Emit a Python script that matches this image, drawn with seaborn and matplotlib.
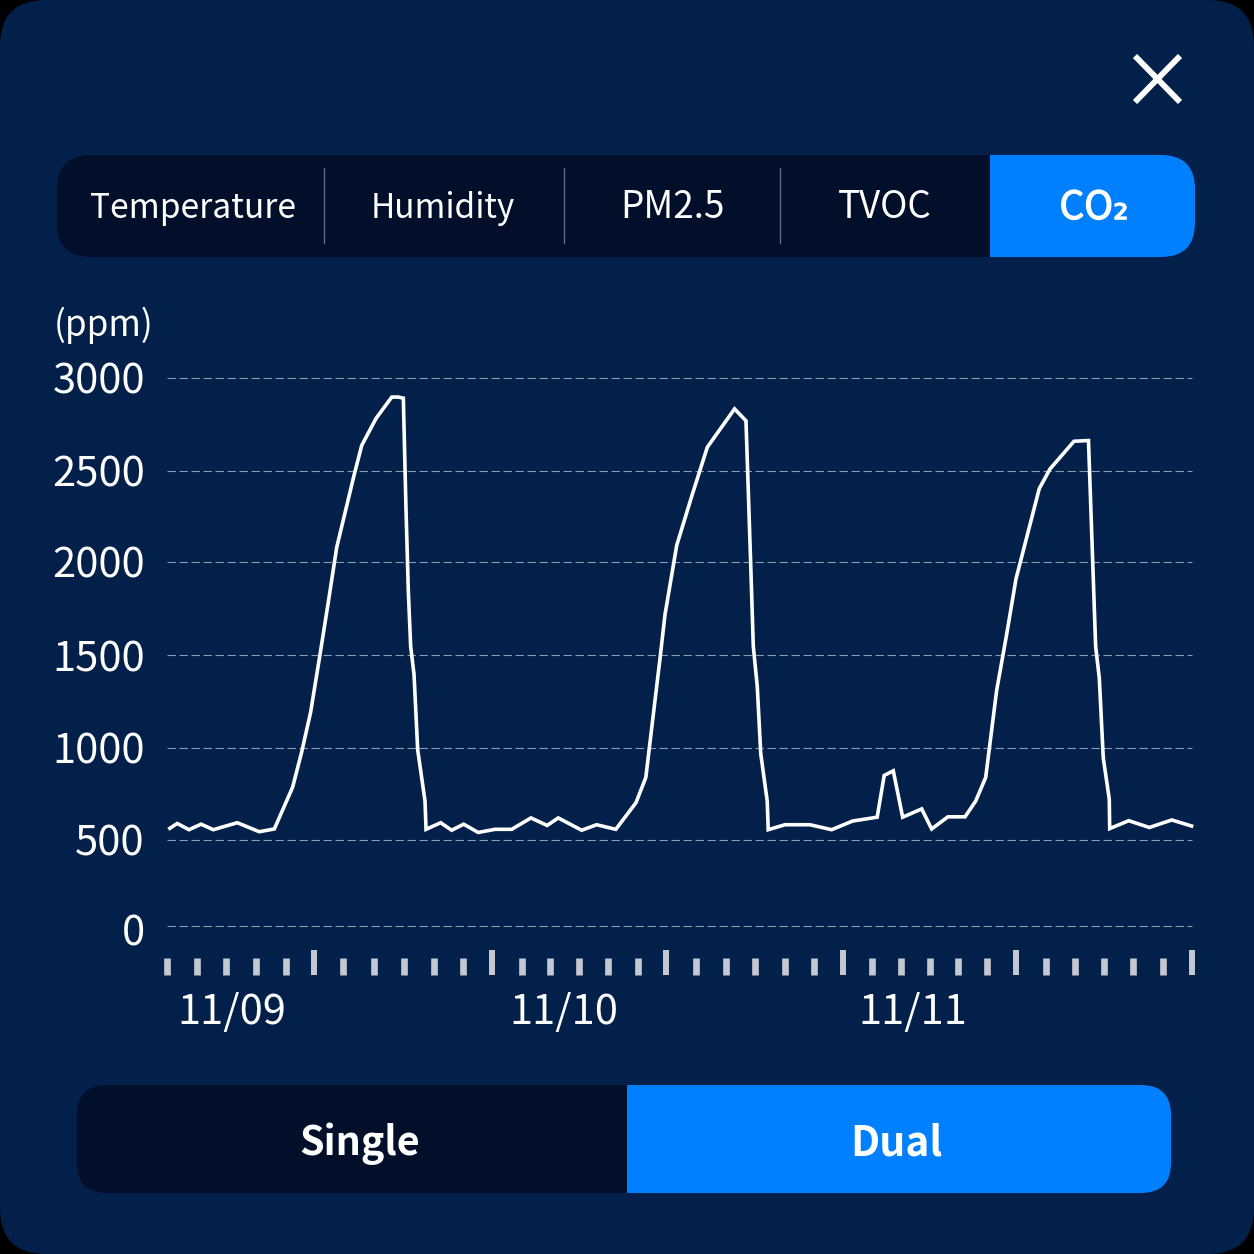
import numpy as np
import matplotlib
matplotlib.use("Agg")
import matplotlib.pyplot as plt
import matplotlib.patheffects as pe
from matplotlib.patches import FancyBboxPatch, Rectangle
from matplotlib.ticker import FixedLocator, FixedFormatter, NullFormatter
from matplotlib.transforms import ScaledTranslation
import seaborn as sns

# ---- data -------------------------------------------------------------
hours = [0.09, 0.70, 1.50, 2.33, 3.16, 4.80, 6.30, 7.33, 8.58, 9.20, 9.81, 10.45, 11.01, 11.59,
         12.78, 13.30, 14.28, 15.35, 15.80, 16.14, 16.32, 16.48, 16.64, 16.87, 17.12, 17.62, 17.69,
         18.69, 19.44, 20.26, 21.25, 22.40, 23.54, 24.86, 25.96, 26.72, 28.32, 29.34, 30.65,
         32.03, 32.70, 33.67, 34.01, 34.81, 35.83, 36.90, 38.76, 39.54, 39.86, 40.04, 40.31, 40.55,
         40.99, 41.06, 42.20, 43.91, 45.39, 46.82, 48.50, 48.98, 49.60, 50.24, 51.54, 52.22, 53.33,
         54.50, 55.23, 55.91, 56.66, 57.34, 57.98, 59.57, 60.30, 61.94, 62.93, 63.42, 63.67, 63.94,
         64.35, 64.38, 65.68, 67.09, 68.62, 70.09]
co2 = [558, 590, 556, 586, 556, 594, 545, 560, 787, 979, 1193, 1503, 1781, 2080,
       2476, 2636, 2782, 2897, 2897, 2891, 2294, 1845, 1546, 1396, 990, 712, 558,
       594, 553, 586, 541, 558, 558, 620, 579, 620, 553, 583, 558,
       703, 840, 1482, 1717, 2091, 2358, 2626, 2833, 2769, 1995, 1546, 1332, 968,
       712, 556, 583, 583, 556, 603, 624, 851, 876, 624, 669, 560, 626,
       626, 712, 840, 1310, 1610, 1909, 2401, 2508, 2658, 2662, 1546, 1375, 947,
       722, 562, 605, 568, 609, 573]
y_ticks = [0, 500, 1000, 1500, 2000, 2500, 3000]
y_tick_px = [926, 840, 748, 655, 562, 470.5, 378]
x_ticks_short = [0.02, 2.03, 4.05, 6.10, 8.11, 12.04, 14.14, 16.19, 18.21, 20.21, 24.22, 26.16,
                 28.16, 30.10, 32.15, 36.11, 38.15, 40.16, 42.20, 44.21, 48.13, 50.15, 52.11,
                 54.04, 56.00, 60.01, 62.03, 64.01, 65.97, 68.00]
x_ticks_long = [10.06, 22.22, 34.10, 46.15, 57.96, 69.98]
date_labels = ["11/09", "11/10", "11/11"]
date_hours = [4.44, 27.1, 50.9]
tabs = ["Temperature", "Humidity", "PM2.5", "TVOC", "CO₂"]
tab_centres = [193, 443, 672, 885, 1094]
tab_sizes = [24.2, 24.0, 26.5, 26.5, 28.0]
tab_dividers = [324, 564, 780]

# ---- style ------------------------------------------------------------
BG = "#02204a"
DARK = "#020f2b"
BLUE = "#0080ff"
sns.set_theme(style="dark")
plt.rcParams["font.family"] = ["Noto Sans CJK KR", "DejaVu Sans"]
plt.rcParams["axes.unicode_minus"] = False

W = 1254
fig = plt.figure(figsize=(W / 100, W / 100), dpi=100, facecolor="black")

def px_axes(x0, y0, x1, y1, **kw):
    return fig.add_axes([x0 / W, 1 - y1 / W, (x1 - x0) / W, (y1 - y0) / W], **kw)

# chrome layer in pixel coordinates
ui = fig.add_axes([0, 0, 1, 1], zorder=0)
ui.set_xlim(0, W)
ui.set_ylim(W, 0)
ui.axis("off")

def rounded(x0, y0, x1, y1, r, color, clip=None):
    p = FancyBboxPatch((x0 + r, y0 + r), x1 - x0 - 2 * r, y1 - y0 - 2 * r,
                       boxstyle=f"round,pad={r},rounding_size={r}",
                       fc=color, ec="none", lw=0)
    ui.add_patch(p)
    if clip is not None:
        rect = Rectangle((clip[0], clip[1]), clip[2] - clip[0], clip[3] - clip[1],
                         transform=ui.transData)
        p.set_clip_path(rect)
    return p

rounded(0, 0, W, W, 46, BG)
rounded(57, 155, 1195, 257, 34, DARK)
rounded(57, 155, 1195, 257, 34, BLUE, clip=(990, 150, 1200, 262))
rounded(77, 1085, 1171, 1193, 30, DARK)
rounded(77, 1085, 1171, 1193, 30, BLUE, clip=(627, 1080, 1180, 1198))

for d in tab_dividers:
    ui.plot([d, d], [168, 243], color="#5f6a80", lw=1.0)
for t, c, size in zip(tabs, tab_centres, tab_sizes):
    txt = ui.text(c, 208, t, color="white", fontsize=size, ha="center", va="center")
    if t == "CO₂":
        txt.set_path_effects([pe.withStroke(linewidth=0.9, foreground="white")])
ui.text(54, 325, "(ppm)", color="white", fontsize=25.3, ha="left", va="center")
ui.text(360, 1143.5, "Single", color="white", fontsize=28.4, ha="center", va="center", fontweight="bold")
ui.text(896, 1143.5, "Dual", color="white", fontsize=29.4, ha="center", va="center", fontweight="bold")
ui.plot([1135, 1180], [56, 102], color="white", lw=4.2, solid_capstyle="butt")
ui.plot([1180, 1135], [56, 102], color="white", lw=4.2, solid_capstyle="butt")

# chart: the 0-500 band is drawn a little narrower than the others
y_px_rel = 926 - np.array(y_tick_px)
def fwd(v):
    return np.interp(v, y_ticks, y_px_rel)
def inv(v):
    return np.interp(v, y_px_rel, y_ticks)

ax = px_axes(167, 378, 1194, 926, zorder=2)
ax.patch.set_alpha(0)
ax.set_yscale("function", functions=(fwd, inv))
ax.yaxis.set_major_locator(FixedLocator(y_ticks))
ax.yaxis.set_minor_locator(FixedLocator([]))
sns.lineplot(x=hours, y=co2, ax=ax, sort=False, estimator=None, color="white", lw=2.6,
             solid_joinstyle="miter", solid_capstyle="butt", zorder=3, clip_on=False)
ax.set_xlim(0, 70 * 1027 / 1025)
ax.set_ylim(0, 3000)
ax.yaxis.set_major_formatter(FixedFormatter([str(v) for v in y_ticks]))
ax.tick_params(axis="y", length=0, pad=16, labelcolor="white", labelsize=30)
ax.tick_params(axis="x", length=0, labelbottom=False)
for s in ax.spines.values():
    s.set_visible(False)
ax.grid(False)
for v in y_ticks:
    ax.axhline(v, xmin=0, xmax=1025 / 1027, color="#8c98ac", lw=0.8, dashes=(7.6, 3.2), zorder=1, clip_on=False)
zero_label = ax.get_yticklabels()[0]
zero_label.set_transform(zero_label.get_transform() + ScaledTranslation(0, -4 / 100, fig.dpi_scale_trans))

# tick strip
ts = px_axes(167, 925, 1194, 975, zorder=2)
ts.patch.set_alpha(0)
ts.set_xlim(0, 70 * 1027 / 1025)
ts.set_ylim(0, 1)
ts.set_yticks([])
ts.set_xticks(x_ticks_long)
ts.set_xticks(x_ticks_short, minor=True)
ts.xaxis.set_major_formatter(NullFormatter())
ts.xaxis.set_minor_formatter(NullFormatter())
ts.tick_params(axis="x", which="major", direction="in", length=25 * 0.72, width=4.3, color="#c4c8d0", bottom=True)
ts.tick_params(axis="x", which="minor", direction="in", length=17 * 0.72, width=4.8, color="#c4c8d0", bottom=True)
for s in ts.spines.values():
    s.set_visible(False)
ts.grid(False)
for lab, h in zip(date_labels, date_hours):
    ts.text(h, -0.76, lab, color="white", fontsize=30, ha="center", va="center")

fig.savefig("out.png", dpi=100, facecolor="black")
